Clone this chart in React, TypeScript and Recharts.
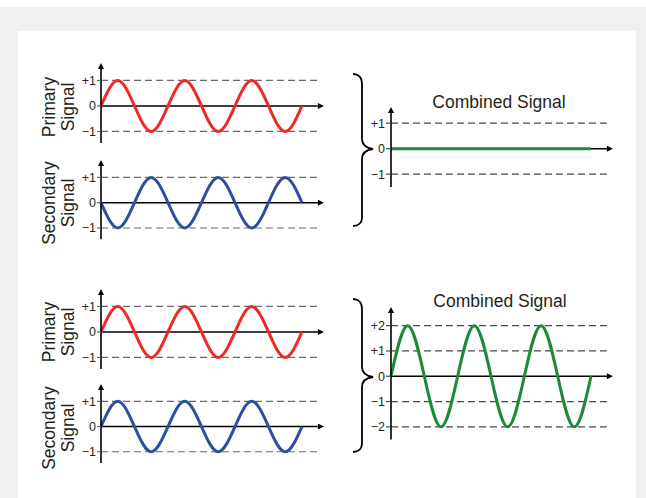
import React from "react";
import { LineChart, Line, XAxis, YAxis, ReferenceLine } from "recharts";

// quarter-period sample positions (3 full cycles)
const phase = [0, 1, 2, 3, 4, 5, 6, 7, 8, 9, 10, 11, 12];

// values at each quarter period
const primaryTop = [0, 1, 0, -1, 0, 1, 0, -1, 0, 1, 0, -1, 0];
const secondaryTop = [0, -1, 0, 1, 0, -1, 0, 1, 0, -1, 0, 1, 0];
const combinedTop = [0, 0, 0, 0, 0, 0, 0, 0, 0, 0, 0, 0, 0];
const primaryBottom = [0, 1, 0, -1, 0, 1, 0, -1, 0, 1, 0, -1, 0];
const secondaryBottom = [0, 1, 0, -1, 0, 1, 0, -1, 0, 1, 0, -1, 0];
const combinedBottom = [0, 2, 0, -2, 0, 2, 0, -2, 0, 2, 0, -2, 0];

const smallTicks = [-1, 0, 1];
const bigTicks = [-2, -1, 0, 1, 2];
const tickText: Record<number, string> = { 2: "+2", 1: "+1", 0: "0", [-1]: "\u22121", [-2]: "\u22122" };

const FONT = "'Liberation Sans', Arial, Helvetica, sans-serif";
const RED = "#ec2a26";
const BLUE = "#2f4e9f";
const GREEN = "#1b8a3b";
const DASH = "#6a6a6a";

const YW = 30;
const MT = 12;
const MR = 14;
const MB = 4;

interface ChartProps {
  values: number[];
  color: string;
  axisX: number;
  zeroY: number;
  unit: number;
  quarter: number;
  yDomain: [number, number];
  ticks: number[];
  tickSize: number;
  dashColor: string;
}

const SignalChart: React.FC<ChartProps> = ({
  values,
  color,
  axisX,
  zeroY,
  unit,
  quarter,
  yDomain,
  ticks,
  tickSize,
  dashColor,
}) => {
  const xMax = 12.95;
  const plotW = xMax * quarter;
  const plotH = (yDomain[1] - yDomain[0]) * unit;
  const plotTop = zeroY - yDomain[1] * unit;
  const data = phase.map((p, i) => ({ phase: p, value: values[i] }));
  const w = YW + plotW + MR;
  const h = MT + plotH + MB;

  return (
    <div style={{ position: "absolute", left: axisX - YW, top: plotTop - MT, width: w, height: h }}>
      <LineChart width={w} height={h} data={data} margin={{ top: MT, right: MR, bottom: MB, left: 0 }}>
        <XAxis dataKey="phase" type="number" domain={[0, xMax]} hide />
        <YAxis
          type="number"
          domain={yDomain}
          ticks={ticks}
          interval={0}
          width={YW}
          tickSize={tickSize}
          tickMargin={1}
          tickFormatter={(v: number) => tickText[v]}
          tick={{ fontSize: 12.5, fill: "#231f20", fontFamily: FONT }}
          tickLine={{ stroke: dashColor, strokeWidth: 1.2 }}
          axisLine={{ stroke: "#000", strokeWidth: 1.6, markerStart: "url(#axisArrow)" }}
        />
        {ticks
          .filter((t) => t !== 0)
          .map((t) => (
            <ReferenceLine key={t} y={t} stroke={dashColor} strokeWidth={1.2} strokeDasharray="7 4" />
          ))}
        <ReferenceLine y={0} stroke="#000" strokeWidth={1.6} markerEnd="url(#axisArrow)" />
        <Line
          type="natural"
          dataKey="value"
          stroke={color}
          strokeWidth={3}
          dot={false}
          activeDot={false}
          isAnimationActive={false}
        />
      </LineChart>
    </div>
  );
};

const SideLabel: React.FC<{ first: string; y: number }> = ({ first, y }) => (
  <g fontFamily={FONT} fontSize={17.5} fill="#231f20" textAnchor="middle">
    <text x={55} y={y} transform={`rotate(-90 55 ${y})`}>
      {first}
    </text>
    <text x={74} y={y} transform={`rotate(-90 74 ${y})`}>
      Signal
    </text>
  </g>
);

export default function App() {
  return (
    <div style={{ position: "absolute", left: 0, top: 0, width: 646, height: 498, background: "#fff", overflow: "hidden" }}>
      <svg width={0} height={0} style={{ position: "absolute" }}>
        <defs>
          <marker
            id="axisArrow"
            viewBox="0 0 10 10"
            refX="0"
            refY="5"
            markerWidth="8"
            markerHeight="6"
            markerUnits="userSpaceOnUse"
            orient="auto-start-reverse"
          >
            <path d="M0,0 L10,5 L0,10 z" fill="#000" />
          </marker>
        </defs>
      </svg>
      <div style={{ position: "absolute", left: 0, top: 7, width: 646, height: 491, background: "#eff0f0" }} />
      <div style={{ position: "absolute", left: 18, top: 31, width: 618, height: 467, background: "#fff" }} />

      <SignalChart values={primaryTop} color={RED} axisX={101} zeroY={106} unit={25.5} quarter={16.75} yDomain={[-1.45, 1.45]} ticks={smallTicks} tickSize={4} dashColor={DASH} />
      <SignalChart values={secondaryTop} color={BLUE} axisX={101} zeroY={202.5} unit={25.3} quarter={16.75} yDomain={[-1.45, 1.45]} ticks={smallTicks} tickSize={4} dashColor={DASH} />
      <SignalChart values={combinedTop} color={GREEN} axisX={391} zeroY={149} unit={25.5} quarter={16.67} yDomain={[-1.5, 1.4]} ticks={smallTicks} tickSize={5} dashColor="#4a4a4a" />

      <SignalChart values={primaryBottom} color={RED} axisX={101} zeroY={332} unit={25.5} quarter={16.75} yDomain={[-1.45, 1.45]} ticks={smallTicks} tickSize={4} dashColor={DASH} />
      <SignalChart values={secondaryBottom} color={BLUE} axisX={101} zeroY={427} unit={25.2} quarter={16.75} yDomain={[-1.45, 1.45]} ticks={smallTicks} tickSize={4} dashColor={DASH} />
      <SignalChart values={combinedBottom} color={GREEN} axisX={391} zeroY={376} unit={25.3} quarter={16.67} yDomain={[-2.5, 2.5]} ticks={bigTicks} tickSize={5} dashColor="#4a4a4a" />

      <svg width={646} height={498} style={{ position: "absolute", left: 0, top: 0, pointerEvents: "none" }}>
        <SideLabel first="Primary" y={107} />
        <SideLabel first="Secondary" y={203} />
        <SideLabel first="Primary" y={332} />
        <SideLabel first="Secondary" y={428} />

        <text x={499} y={108} fontFamily={FONT} fontSize={17.5} fill="#231f20" textAnchor="middle">
          Combined Signal
        </text>
        <text x={500} y={307} fontFamily={FONT} fontSize={17.5} fill="#231f20" textAnchor="middle">
          Combined Signal
        </text>

        <path
          d="M353,74 C358,74 362,77 362,84 L362,139 C362,145 366,148 373,149 C366,150 362,153 362,159 L362,218 C362,223 358,226 353,226"
          fill="none"
          stroke="#000"
          strokeWidth={1.8}
        />
        <path
          d="M353,299 C358,299 362,302 362,309 L362,367 C362,373 366,376 373,377 C366,378 362,381 362,387 L362,443 C362,449 358,452 353,452"
          fill="none"
          stroke="#000"
          strokeWidth={1.8}
        />
      </svg>
    </div>
  );
}
